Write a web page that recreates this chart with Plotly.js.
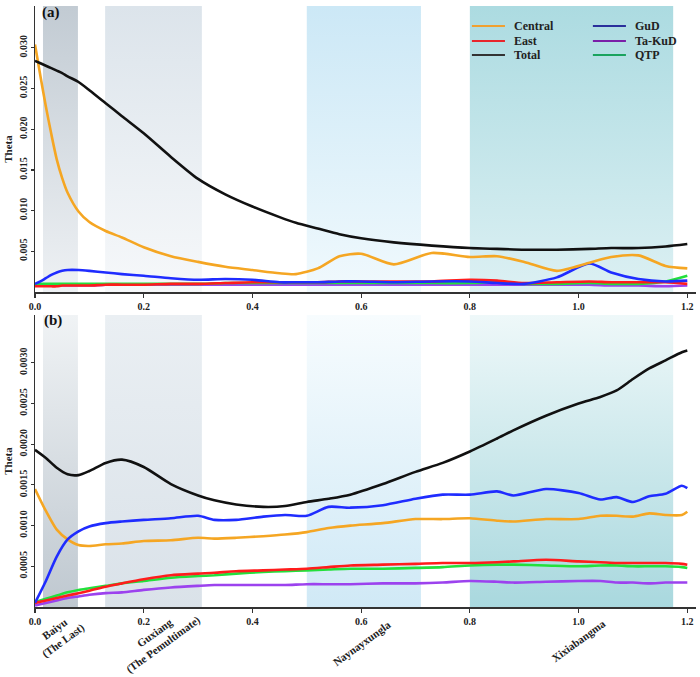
<!DOCTYPE html>
<html>
<head>
<meta charset="utf-8">
<script src="https://cdn.plot.ly/plotly-3.0.1.min.js"></script>
<style>html,body{margin:0;padding:0;background:#fff}#chart{width:700px;height:677px}</style>
</head>
<body>
<div id="chart"></div>
<script>
// ---------- data ----------
const seriesNames = ['Central', 'East', 'Total', 'GuD', 'Ta-KuD', 'QTP'];

// panel (a)
const xA = [0, 0.01, 0.02, 0.03, 0.04, 0.05, 0.06, 0.08, 0.10, 0.13, 0.16, 0.20, 0.25, 0.30, 0.35, 0.40, 0.45, 0.48, 0.52, 0.56, 0.60, 0.66, 0.73, 0.80, 0.85, 0.90, 0.96, 1.02, 1.06, 1.11, 1.16, 1.20];
const totalA   = [0.0284, 0.0281, 0.0278, 0.0275, 0.0272, 0.0269, 0.0265, 0.0258, 0.0248, 0.0232, 0.0216, 0.0195, 0.0166, 0.0139, 0.0120, 0.0105, 0.0092, 0.0085, 0.0078, 0.0071, 0.0066, 0.0061, 0.0057, 0.0054, 0.0053, 0.0052, 0.0052, 0.0053, 0.0054, 0.0054, 0.0056, 0.0059];
const centralA = [0.0304, 0.0265, 0.0228, 0.0194, 0.0163, 0.0140, 0.0122, 0.0099, 0.0086, 0.0075, 0.0067, 0.0055, 0.0044, 0.0037, 0.0031, 0.0027, 0.0023, 0.0022, 0.0029, 0.0044, 0.0047, 0.0034, 0.0048, 0.0043, 0.0044, 0.0037, 0.0026, 0.0036, 0.0043, 0.0045, 0.0032, 0.0029];
const gudA     = [0.0010, 0.0013, 0.0017, 0.0021, 0.0024, 0.0026, 0.0027, 0.0027, 0.0026, 0.0024, 0.0022, 0.0020, 0.0017, 0.0015, 0.0016, 0.0015, 0.0012, 0.0012, 0.0012, 0.0013, 0.0013, 0.0012, 0.0013, 0.0013, 0.0011, 0.0010, 0.0018, 0.0035, 0.0024, 0.0016, 0.0013, 0.0014];
const eastA    = [0.0007, 0.0007, 0.0007, 0.0007, 0.0007, 0.0008, 0.0008, 0.0008, 0.0008, 0.0009, 0.0009, 0.0009, 0.0010, 0.0010, 0.0011, 0.0012, 0.0012, 0.0012, 0.0012, 0.0013, 0.0013, 0.0013, 0.0013, 0.0015, 0.0014, 0.0011, 0.0012, 0.0013, 0.0012, 0.0012, 0.0012, 0.0010];
const qtpA     = [0.0009, 0.0010, 0.0010, 0.0010, 0.0010, 0.0010, 0.0010, 0.0010, 0.0010, 0.0010, 0.0010, 0.0010, 0.0010, 0.0010, 0.0011, 0.0011, 0.0011, 0.0011, 0.0011, 0.0011, 0.0011, 0.0011, 0.0011, 0.0011, 0.0012, 0.0010, 0.0010, 0.0011, 0.0010, 0.0010, 0.0013, 0.0020];
const takudA   = [0.0008, 0.0008, 0.0008, 0.0008, 0.0008, 0.0008, 0.0008, 0.0008, 0.0008, 0.0009, 0.0009, 0.0009, 0.0009, 0.0009, 0.0009, 0.0009, 0.0009, 0.0009, 0.0009, 0.0009, 0.0009, 0.0009, 0.0009, 0.0009, 0.0009, 0.0009, 0.0009, 0.0009, 0.0008, 0.0008, 0.0007, 0.0008];

// panel (b)
const xB = [0, 0.02, 0.04, 0.06, 0.08, 0.10, 0.13, 0.16, 0.20, 0.25, 0.30, 0.33, 0.37, 0.42, 0.46, 0.50, 0.54, 0.58, 0.64, 0.70, 0.75, 0.80, 0.85, 0.88, 0.94, 1.00, 1.04, 1.07, 1.10, 1.13, 1.16, 1.19, 1.20];
const totalB   = [0.00193, 0.00183, 0.00171, 0.00163, 0.00162, 0.00167, 0.00177, 0.00181, 0.00172, 0.00151, 0.00137, 0.00131, 0.00126, 0.00123, 0.00124, 0.00129, 0.00133, 0.00138, 0.00151, 0.00166, 0.00177, 0.00191, 0.00207, 0.00217, 0.00235, 0.00250, 0.00258, 0.00266, 0.00280, 0.00293, 0.00303, 0.00313, 0.00315];
const gudB     = [0.00005, 0.00032, 0.00062, 0.00083, 0.00093, 0.00099, 0.00103, 0.00105, 0.00107, 0.00109, 0.00112, 0.00107, 0.00107, 0.00111, 0.00113, 0.00112, 0.00123, 0.00122, 0.00125, 0.00133, 0.00138, 0.00138, 0.00142, 0.00137, 0.00145, 0.00140, 0.00132, 0.00135, 0.00129, 0.00136, 0.00139, 0.00149, 0.00146];
const centralB = [0.00145, 0.00118, 0.00095, 0.00083, 0.00076, 0.00075, 0.00077, 0.00078, 0.00081, 0.00082, 0.00085, 0.00084, 0.00085, 0.00087, 0.00089, 0.00092, 0.00097, 0.00100, 0.00103, 0.00108, 0.00108, 0.00109, 0.00106, 0.00105, 0.00108, 0.00108, 0.00112, 0.00112, 0.00111, 0.00115, 0.00113, 0.00113, 0.00117];
const eastB    = [0.00005, 0.00008, 0.00011, 0.00014, 0.00017, 0.00020, 0.00025, 0.00029, 0.00034, 0.00039, 0.00041, 0.00042, 0.00044, 0.00045, 0.00046, 0.00047, 0.00049, 0.00051, 0.00052, 0.00053, 0.00054, 0.00054, 0.00055, 0.00056, 0.00058, 0.00056, 0.00055, 0.00054, 0.00054, 0.00054, 0.00054, 0.00053, 0.00052];
const qtpB     = [0.00006, 0.00010, 0.00014, 0.00018, 0.00021, 0.00023, 0.00026, 0.00029, 0.00032, 0.00036, 0.00038, 0.00039, 0.00041, 0.00043, 0.00044, 0.00045, 0.00046, 0.00047, 0.00047, 0.00048, 0.00049, 0.00051, 0.00052, 0.00052, 0.00051, 0.00050, 0.00051, 0.00051, 0.00050, 0.00050, 0.00050, 0.00049, 0.00048];
const takudB   = [0.00002, 0.00005, 0.00008, 0.00011, 0.00013, 0.00015, 0.00017, 0.00018, 0.00021, 0.00024, 0.00026, 0.00027, 0.00027, 0.00027, 0.00027, 0.00028, 0.00028, 0.00028, 0.00029, 0.00029, 0.00030, 0.00032, 0.00031, 0.00030, 0.00031, 0.00032, 0.00032, 0.00030, 0.00030, 0.00029, 0.00030, 0.00030, 0.00030];

// glacial stage bands (x extent) and their labels
const bandStart = [0.0147, 0.129, 0.500, 0.800];
const bandEnd   = [0.079, 0.307, 0.710, 1.174];
const bandLabels = ['Baiyu<br>(The Last)', 'Guxiang<br>(The Pemultimate)', 'Naynayxungla', 'Xixiabangma'];
const bandLabelX = [0.045, 0.229, 0.602, 0.999];

// ticks
const xTicks = [0, 0.2, 0.4, 0.6, 0.8, 1.0, 1.2];
const yTicksA = [0.005, 0.010, 0.015, 0.020, 0.025, 0.030];
const yTicksB = [0.0005, 0.0010, 0.0015, 0.0020, 0.0025, 0.0030];

// ---------- styling ----------
const FONT = 'Liberation Serif, Times New Roman, serif';
const lineColors = {Central: '#f5a623', East: '#ff1c1c', Total: '#111111', GuD: '#1f2cff', 'Ta-KuD': '#9c42ee', QTP: '#23e03c'};
const legendColors = {Central: '#f0a030', East: '#e8262c', Total: '#333333', GuD: '#2a2f9b', 'Ta-KuD': '#7a1fa8', QTP: '#1aa35e'};
const yTopA = 0.03514, yTopB = 0.003587, xMax = 1.216;

const bandColorsA = [['#eef1f4', '#c2cbd3'], ['#f6f8fa', '#dce4eb'], ['#f0f9fd', '#cce8f6'], ['#dcf0f3', '#acdbe1']];
const bandColorsB = [['#bfc8d0', '#f0f3f5'], ['#dae2e9', '#eaeff3'], ['#d0e9f6', '#f7fcfe'], ['#a9d8de', '#eef8f9']];

const traces = [];
function addBands(xa, ya, top, colors) {
  for (let i = 0; i < bandStart.length; i++) {
    traces.push({
      type: 'scatter', mode: 'none', xaxis: xa, yaxis: ya,
      x: [bandStart[i], bandEnd[i], bandEnd[i], bandStart[i], bandStart[i]],
      y: [0, 0, top, top, 0],
      fill: 'toself', fillcolor: colors[i][1],
      fillgradient: {type: 'vertical', colorscale: [[0, colors[i][0]], [1, colors[i][1]]]},
      hoverinfo: 'skip', showlegend: false
    });
  }
}
addBands('x', 'y', yTopA, bandColorsA);
addBands('x2', 'y2', yTopB, bandColorsB);

function addLine(xa, ya, xs, ys, name) {
  traces.push({
    type: 'scatter', mode: 'lines', xaxis: xa, yaxis: ya, x: xs, y: ys, name: name,
    line: {color: lineColors[name], width: 2.6, shape: 'spline', smoothing: 0.7},
    showlegend: false
  });
}
addLine('x', 'y', xA, takudA, 'Ta-KuD');
addLine('x', 'y', xA, qtpA, 'QTP');
addLine('x', 'y', xA, eastA, 'East');
addLine('x', 'y', xA, gudA, 'GuD');
addLine('x', 'y', xA, centralA, 'Central');
addLine('x', 'y', xA, totalA, 'Total');

addLine('x2', 'y2', xB, takudB, 'Ta-KuD');
addLine('x2', 'y2', xB, qtpB, 'QTP');
addLine('x2', 'y2', xB, eastB, 'East');
addLine('x2', 'y2', xB, centralB, 'Central');
addLine('x2', 'y2', xB, gudB, 'GuD');
addLine('x2', 'y2', xB, totalB, 'Total');

const tickFont = {family: FONT, size: 10, color: '#222', weight: 'bold'};
function xAxis(anchor) {
  return {
    anchor: anchor, domain: [0, 1], range: [0, xMax], tickvals: xTicks, tickformat: '.1f',
    ticks: 'outside', ticklen: 4, tickwidth: 1.2, tickcolor: '#333',
    showline: true, linecolor: '#333', linewidth: 1.5, showgrid: false, zeroline: false,
    tickfont: tickFont
  };
}
function yAxis(anchor, domain, top, tv, fmt) {
  return {
    anchor: anchor, domain: domain, range: [0, top], tickvals: tv, tickformat: fmt,
    tickangle: -90, ticks: 'outside', ticklen: 3, tickwidth: 1.2, tickcolor: '#333',
    showline: true, linecolor: '#333', linewidth: 1.5, showgrid: false, zeroline: false,
    tickfont: tickFont,
    title: {text: 'Theta', font: {family: FONT, size: 11, color: '#222', weight: 'bold'}, standoff: 2}
  };
}

// legend drawn in paper coordinates (two columns, three rows)
const legendCols = [[0.661, 0.711, 0.7216], [0.844, 0.894, 0.9047]];
const legendRows = [0.9667, 0.9418, 0.9185];
const shapes = [];
const annotations = [];
seriesNames.forEach((nm, i) => {
  const c = legendCols[Math.floor(i / 3)], r = legendRows[i % 3];
  shapes.push({type: 'line', xref: 'paper', yref: 'paper', x0: c[0], x1: c[1], y0: r, y1: r,
    line: {color: legendColors[nm], width: 1.8}});
  annotations.push({xref: 'paper', yref: 'paper', x: c[2], y: r, xanchor: 'left', yanchor: 'middle',
    text: nm, showarrow: false, font: {family: FONT, size: 12, color: '#222', weight: 'bold'}});
});
annotations.push({xref: 'paper', yref: 'paper', x: 0.008, y: 0.99, xanchor: 'left', yanchor: 'middle',
  text: '(a)', showarrow: false, font: {family: FONT, size: 15, color: '#111', weight: 'bold'}});
annotations.push({xref: 'paper', yref: 'paper', x: 0.01, y: 0.4775, xanchor: 'left', yanchor: 'middle',
  text: '(b)', showarrow: false, font: {family: FONT, size: 15, color: '#111', weight: 'bold'}});
const labelY = [-0.045, -0.053, -0.0606, -0.0566];
bandLabels.forEach((t, i) => {
  annotations.push({xref: 'x2', yref: 'paper', x: bandLabelX[i], y: labelY[i], xanchor: 'center', yanchor: 'middle',
    text: t, textangle: -36, showarrow: false, font: {family: FONT, size: 11, color: '#222', weight: 'bold'}});
});

const layout = {
  width: 700, height: 677,
  margin: {l: 35, r: 4, t: 6, b: 70},
  paper_bgcolor: '#ffffff', plot_bgcolor: 'rgba(0,0,0,0)',
  showlegend: false,
  xaxis: xAxis('y'),
  yaxis: yAxis('x', [0.5241, 1], yTopA, yTicksA, '.3f'),
  xaxis2: xAxis('y2'),
  yaxis2: yAxis('x2', [0, 0.4859], yTopB, yTicksB, '.4f'),
  shapes: shapes,
  annotations: annotations
};

Plotly.newPlot('chart', traces, layout, {displayModeBar: false, staticPlot: true});
</script>
</body>
</html>
